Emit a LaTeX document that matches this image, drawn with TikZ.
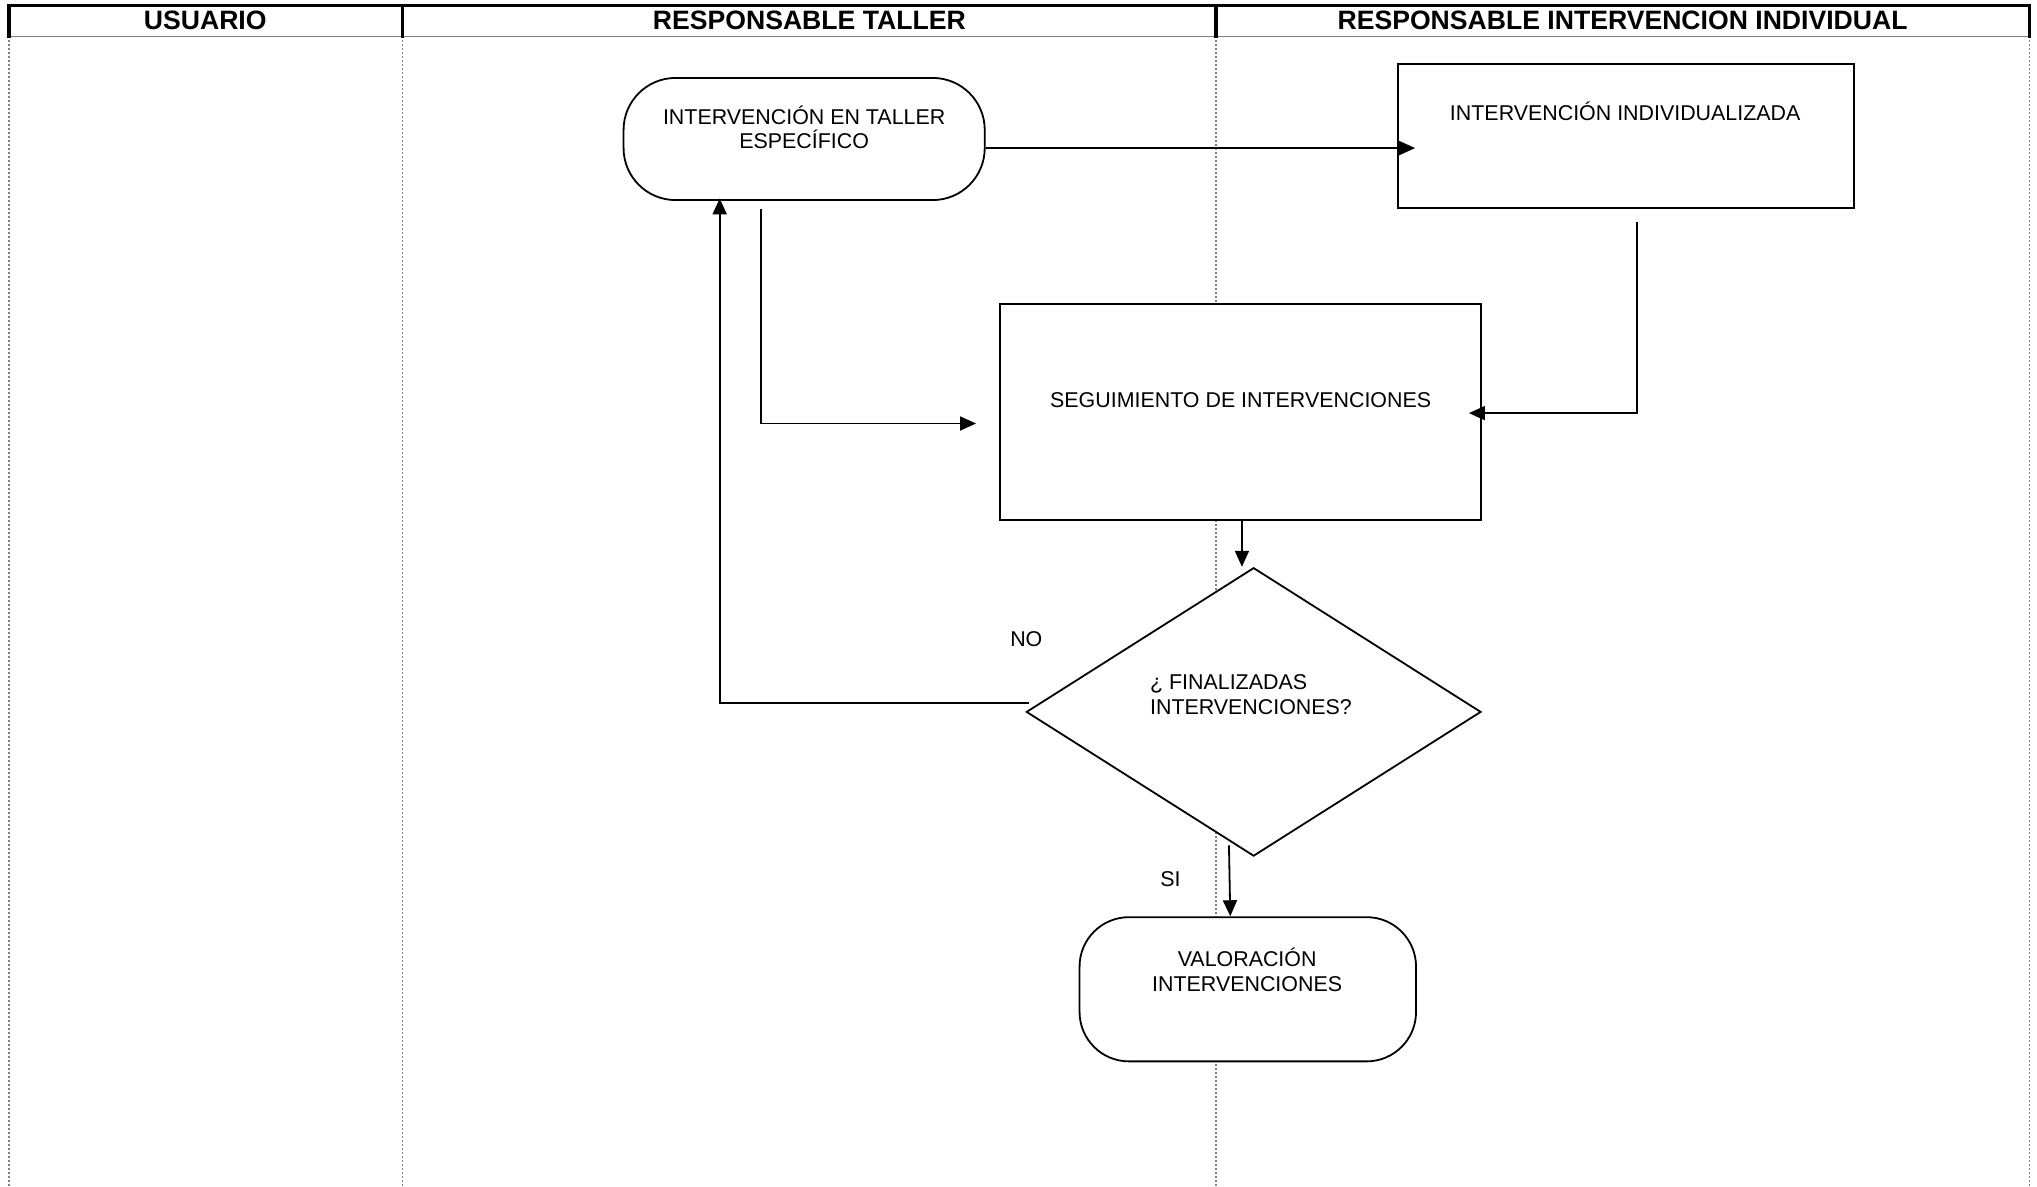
\documentclass[tikz,border=0pt]{standalone}
\usepackage{fontspec}
\setmainfont{Liberation Sans}
\usetikzlibrary{arrows.meta,shapes.geometric,calc}
\newdimen\pxu
\pxu=0.6495pt
\begin{document}
\begin{tikzpicture}[x=0.6495pt,y=-0.6495pt,
  hdr/.style={font=\bfseries\fontsize{13.3}{15}\selectfont},
  txt/.style={font=\fontsize{10.7}{12.4}\selectfont,align=center,inner sep=0pt},
  lane/.style={gray,line width=0.6pt,dash pattern=on 1pt off 1pt},
  frame/.style={line width=1.6pt},
  boxs/.style={draw,fill=white,line width=0.9pt,inner sep=0pt},
  term/.style={draw,fill=white,line width=0.9pt,inner sep=0pt,rounded corners=40\pxu},
  arr/.style={line width=0.9pt,-{Triangle[length=8pt,width=7pt]}}]
\useasboundingbox (0,0) rectangle (1568,913);
% lanes
\draw[lane] (7,28) -- (7,913);
\draw[lane] (310,28) -- (310,913);
\draw[lane] (936,28) -- (936,913);
\draw[lane] (1562,28) -- (1562,913);
\draw[gray,line width=0.8pt] (7,28) -- (1562,28);
\draw[frame] (7,29) -- (7,4) -- (1562,4) -- (1562,29);
\draw[frame] (310,4) -- (310,29);
\draw[frame] (936,4) -- (936,29);
\node[hdr] (h1) at (158,16) {USUARIO};
\node[hdr] (h2) at (623,16) {RESPONSABLE TALLER};
\node[hdr] (h3) at (1249,16) {RESPONSABLE INTERVENCION INDIVIDUAL};
% shapes
\node[term,minimum width=278\pxu,minimum height=94\pxu] (A) at (619,107) {};
\node[txt] (At) at (619,98) {INTERVENCIÓN EN TALLER\\ESPECÍFICO};
\node[boxs,minimum width=351\pxu,minimum height=111\pxu] (B) at (1251.5,104.5) {};
\node[txt] (Bt) at (1251,86) {INTERVENCIÓN INDIVIDUALIZADA};
\node[boxs,minimum width=370\pxu,minimum height=166\pxu] (C) at (955,317) {};
\node[txt] (Ct) at (955,308) {SEGUIMIENTO DE INTERVENCIONES};
\node[boxs,diamond,minimum width=350\pxu,minimum height=222\pxu] (D) at (965,548) {};
\node[txt,align=left,anchor=west] (Dt) at (885,534.5) {¿ FINALIZADAS\\INTERVENCIONES?};
\node[term,rounded corners=38\pxu,minimum width=259\pxu,minimum height=111\pxu] (E) at (960.5,761.5) {};
\node[txt] (Et) at (960,746.5) {VALORACIÓN\\INTERVENCIONES};
% labels
\node[txt] (no) at (790,492) {NO};
\node[txt] (si) at (901,677) {SI};
% connectors
\draw[arr] ($(A.east)+(0,7)$) -- ($(B.west)+(14,9.5)$);
\draw[arr] ($(A.south)+(-33,6)$) |- ($(C.west)+(-18,9)$);
\draw[arr] ($(B.south)+(8.5,10)$) |- ($(C.east)+(-10,1)$);
\draw[arr] ($(C.south)+(1,0)$) -- ($(D.north)+(-9,0)$);
\draw[arr] ($(D.west)+(3,-7)$) -| ($(A.south)+(-65,-2)$);
\draw[arr] ($(D.south)+(-19,-9)$) -- ($(E.north)+(-13.5,0)$);
\end{tikzpicture}
\end{document}
